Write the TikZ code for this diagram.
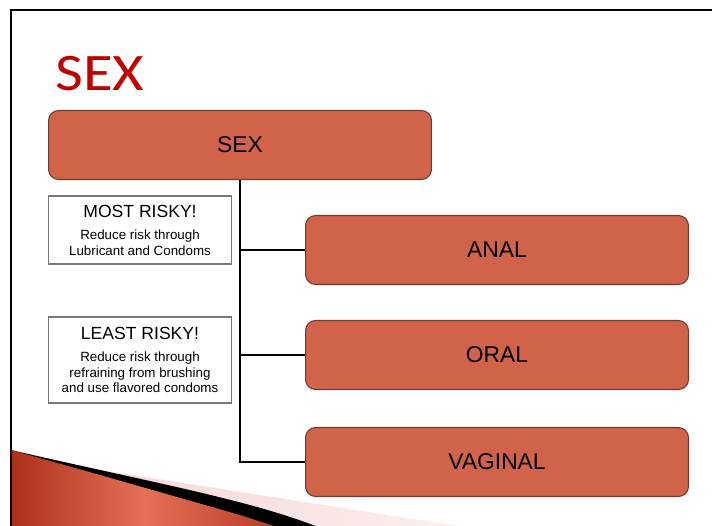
\documentclass[tikz,border=0pt]{standalone}
\usepackage{fontspec}
\setmainfont{Liberation Sans}
\newfontfamily\titlefont[FakeStretch=1.15]{Carlito}
\usetikzlibrary{positioning, calc}
\definecolor{boxfill}{RGB}{209,99,74}
\definecolor{boxline}{RGB}{110,60,50}
\definecolor{titlered}{RGB}{192,0,0}
\definecolor{notegray}{RGB}{120,120,120}
\definecolor{swooshdark}{RGB}{172,48,26}
\definecolor{swooshlight}{RGB}{228,112,88}
\definecolor{swooshpink}{RGB}{245,214,212}

\begin{document}
\begin{tikzpicture}[x=0.02cm, y=-0.02cm,
    catbox/.style={draw=boxline, line width=0.6pt, fill=boxfill, rounded corners=0.2cm,
                   minimum width=7.66cm, minimum height=1.38cm, font=\fontsize{13}{15}\selectfont},
    notebox/.style={draw=notegray, line width=0.6pt, fill=white, align=center, inner sep=0pt,
                    minimum width=3.66cm, font=\fontsize{7.6}{8.8}\selectfont},
    link/.style={black, line width=1.1pt}]
        \useasboundingbox (0,0) rectangle (712,525);

        % frame and bottom swoosh
        \begin{scope}
            \clip (0,0) rectangle (712,525);
            \shade[left color=swooshpink, right color=swooshpink!40]
                (60,461) -- (100,470) -- (465,527) -- (300,527) -- cycle;
            \fill[black] (11,450) .. controls (150,482) and (250,500) .. (318,527) -- (11,527) -- cycle;
            \shade[left color=swooshdark, right color=swooshdark!80!swooshlight, middle color=swooshlight]
                (11,450) -- (100,475) -- (240,515) -- (277,527) -- (11,527) -- cycle;
            \draw[black, line width=1.7pt] (11,540) -- (11,10) -- (730,10);
        \end{scope}

        % title
        \node[anchor=base west, inner sep=0pt, text=titlered, font=\titlefont\fontsize{30}{34}\selectfont] (sexTitle) at (55,90) {SEX};

        % top box
        \node[catbox] (sexBox) at (240,145) {SEX};

        % categories
        \node[catbox] (anal) at (497,250) {ANAL};
        \node[catbox] (oral) at (497,355) {ORAL};
        \node[catbox] (vaginal) at (497,462) {VAGINAL};

        % notes
        \node[notebox, minimum height=1.36cm] (mostRisky) at (140,230)
            {{\fontsize{10}{12}\selectfont MOST RISKY!}\\[4pt]
             Reduce risk through\\ Lubricant and Condoms};
        \node[notebox, minimum height=1.72cm] (leastRisky) at (140,360)
            {{\fontsize{10}{12}\selectfont LEAST RISKY!}\\[4pt]
             Reduce risk through\\ refraining from brushing\\ and use flavored condoms};

        % tree connectors
        \draw[link] (sexBox.south) |- (vaginal.west);
        \draw[link] (sexBox.south |- anal.west) -- (anal.west);
        \draw[link] (sexBox.south |- oral.west) -- (oral.west);
    \end{tikzpicture}
\end{document}
